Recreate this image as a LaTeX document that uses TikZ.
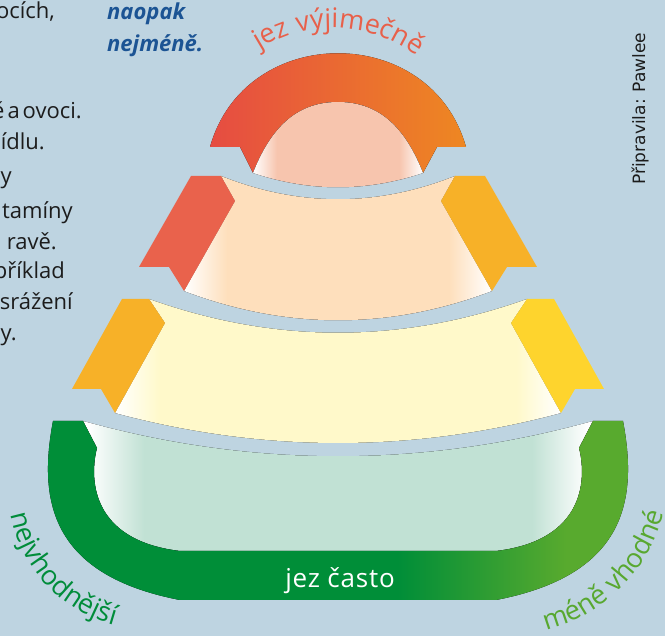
\documentclass[tikz,border=0pt]{standalone}
\usepackage{fontspec}
\setmainfont{Open Sans}
\newfontfamily\labelfont[LetterSpace=3]{Open Sans}
\newfontfamily\creditfont{DejaVu Sans}
\usetikzlibrary{decorations.text}
\definecolor{bg}{RGB}{190,212,225}
\definecolor{archL}{RGB}{230,76,66}
\definecolor{archR}{RGB}{238,135,34}
\definecolor{domec}{RGB}{247,197,174}
\definecolor{peach}{RGB}{254,223,188}
\definecolor{cream}{RGB}{255,249,202}
\definecolor{mint}{RGB}{193,225,212}
\definecolor{ribred}{RGB}{233,98,76}
\definecolor{riborange}{RGB}{247,177,40}
\definecolor{ribyellow}{RGB}{254,212,45}
\definecolor{gdark}{RGB}{0,142,56}
\definecolor{glight}{RGB}{88,170,46}
\definecolor{ink}{RGB}{28,28,28}
\definecolor{inkblue}{RGB}{28,84,148}
\definecolor{labred}{RGB}{232,96,74}
\definecolor{labgreen}{RGB}{0,140,58}
\definecolor{labgreenL}{RGB}{88,168,48}
\pgfdeclarehorizontalshading{domeshade}{100bp}{color(0bp)=(white); color(25bp)=(white); color(32bp)=(domec); color(68bp)=(domec); color(75bp)=(white); color(100bp)=(white)}
\pgfdeclarehorizontalshading{peachshade}{100bp}{color(0bp)=(white); color(25bp)=(white); color(32bp)=(peach); color(68bp)=(peach); color(75bp)=(white); color(100bp)=(white)}
\pgfdeclarehorizontalshading{creamshade}{100bp}{color(0bp)=(white); color(25bp)=(white); color(30bp)=(cream); color(70bp)=(cream); color(75bp)=(white); color(100bp)=(white)}
\pgfdeclarehorizontalshading{mintshade}{100bp}{color(0bp)=(white); color(25.5bp)=(white); color(31bp)=(mint); color(69bp)=(mint); color(74.5bp)=(white); color(100bp)=(white)}
\pgfdeclarehorizontalshading{greenshade}{100bp}{color(0bp)=(gdark); color(55bp)=(gdark); color(69bp)=(glight); color(100bp)=(glight)}
\begin{document}
\begin{tikzpicture}[x=1pt,y=-1pt,
  bodytext/.style={inner sep=0pt, anchor=base east, text=ink, font=\fontsize{22}{26}\selectfont},
  bluetext/.style={inner sep=0pt, anchor=base west, text=inkblue, font=\fontsize{22}{26}\selectfont\bfseries\itshape},
  curvelabel/.style={decorate, decoration={text along path, text align=center, text color=#1}}]
\fill[bg] (0,0) rectangle (665,636);
\useasboundingbox (0,0) rectangle (665,636);

% tier 1: arch and dome
\fill[left color=archL, right color=archR] (210,147) .. controls (245,22) and (431,22) .. (466,147) -- (437,147) -- (423,173) .. controls (406,130) and (381,102) .. (338,102) .. controls (295,102) and (270,130) .. (253,173) -- (240,147) -- cycle;
\fill[shading=domeshade] (253,173) .. controls (270,130) and (295,102) .. (338,102) .. controls (381,102) and (406,130) .. (423,173) .. controls (366,192) and (310,192) .. (253,173) -- cycle;

% tier 2
\fill[shading=peachshade] (221,176) .. controls (299,207) and (377,207) .. (455,176) -- (441,201) -- (492,291) .. controls (389,330) and (287,330) .. (184,291) -- (235,201) -- cycle;
\fill[ribred] (191,176) -- (221,176) -- (235,201) -- (184,291) -- (169,267) -- (139,267) -- cycle;
\fill[riborange] (485,176) -- (455,176) -- (441,201) -- (492,291) -- (507,267) -- (537,267) -- cycle;

% tier 3
\fill[shading=creamshade] (149,299) .. controls (275,344) and (401,344) .. (527,299) -- (511,323) -- (561,413) .. controls (412,453) and (264,453) .. (115,413) -- (165,323) -- cycle;
\fill[riborange] (122,299) -- (149,299) -- (165,323) -- (115,413) -- (101,389) -- (72,389) -- cycle;
\fill[ribyellow] (554,299) -- (527,299) -- (511,323) -- (561,413) -- (575,389) -- (604,389) -- cycle;

% tier 4
\fill[shading=mintshade] (83,421) .. controls (253,468) and (423,468) .. (593,421) -- (579,448) .. controls (586,475) and (588,540) .. (496,551) -- (180,551) .. controls (88,540) and (90,475) .. (97,448) -- cycle;
\fill[shading=greenshade] (53,421) -- (83,421) -- (97,448) .. controls (90,475) and (88,540) .. (180,551) -- (496,551) .. controls (588,540) and (586,475) .. (579,448) -- (593,421) -- (623,421) .. controls (638,500) and (626,575) .. (496,600) -- (180,600) .. controls (50,575) and (38,500) .. (53,421) -- cycle;

\node[inner sep=0pt, anchor=base, text=white, font=\labelfont\fontsize{26}{30}\selectfont] (jc) at (340,588) {jez často};

% curved labels
\path[curvelabel=labred, decoration={text={|\labelfont\fontsize{27}{30}\selectfont|jez výjimečně}}]
  plot[samples=80, domain=0:145, variable=\t] ({333+138*cos(-160+\t)},{166+138*sin(-160+\t)});
\path[curvelabel=labgreen, decoration={text={|\labelfont\fontsize{27}{30}\selectfont|nejvhodnější}}]
  plot[samples=80, domain=0:126, variable=\t] ({151+143*cos(200-\t)},{487+143*sin(200-\t)});
\path[curvelabel=labgreenL, decoration={text={|\labelfont\fontsize{27}{30}\selectfont|méně vhodné}}]
  plot[samples=80, domain=0:130, variable=\t] ({508+160*cos(110-\t)},{475+160*sin(110-\t)});

% left text fragments
\node[bodytext] (t1) at (55,19) {ocích,};
\node[bodytext] (t2) at (82,119) {ě\hspace{3pt}a\hspace{3pt}ovoci.};
\node[bodytext] (t3) at (45,149.5) {jídlu.};
\node[bodytext] (t4) at (12,184) {y};
\node[bodytext] (t5) at (73,219) {tamíny};
\node[bodytext] (t6) at (57,250) {ravě.};
\node[bodytext] (t7) at (65,279) {příklad};
\node[bodytext] (t8) at (73,310) {srážení};
\node[bodytext] (t9) at (17,341) {y.};

\node[bluetext] (b1) at (107,20) {naopak};
\node[bluetext] (b2) at (107,52) {nejméně.};

\node[inner sep=0pt, anchor=base west, rotate=90, text=ink, font=\creditfont\fontsize{17}{20}\selectfont] (cr) at (645,185) {Připravila: Pawlee};
\end{tikzpicture}
\end{document}
